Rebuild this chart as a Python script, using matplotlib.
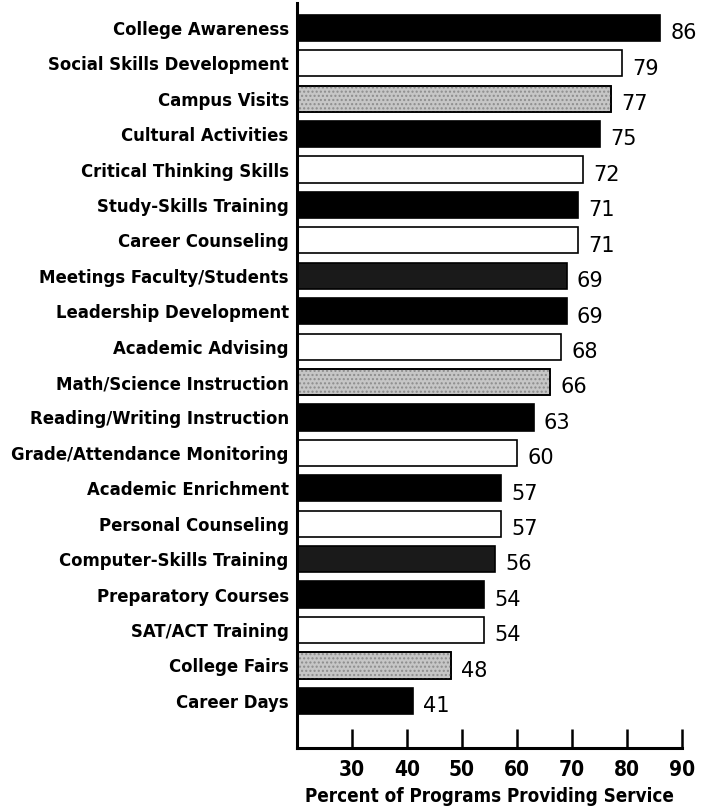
import matplotlib.pyplot as plt
import numpy as np

services = ['College Awareness', 'Social Skills Development', 'Campus Visits',
            'Cultural Activities', 'Critical Thinking Skills', 'Study-Skills Training',
            'Career Counseling', 'Meetings Faculty/Students', 'Leadership Development',
            'Academic Advising', 'Math/Science Instruction', 'Reading/Writing Instruction',
            'Grade/Attendance Monitoring', 'Academic Enrichment', 'Personal Counseling',
            'Computer-Skills Training', 'Preparatory Courses', 'SAT/ACT Training',
            'College Fairs', 'Career Days']
percent = [86, 79, 77, 75, 72, 71, 71, 69, 69, 68, 66, 63, 60, 57, 57, 56, 54, 54, 48, 41]
fills = ['black', 'white', 'gray', 'black', 'white', 'black', 'white', 'dark', 'black',
         'white', 'gray', 'black', 'white', 'black', 'white', 'dark', 'black', 'white',
         'gray', 'black']
xticks = [30, 40, 50, 60, 70, 80, 90]

colour = {'black': '#000000', 'white': '#ffffff', 'gray': '#c6c6c6', 'dark': '#1a1a1a'}

fig = plt.figure(figsize=(7.13, 8.11), dpi=100)
ax = fig.add_axes([297 / 713, 63 / 811, (682 - 297) / 713, (808 - 63) / 811])

y = np.arange(len(services))
cols = [colour[f] for f in fills]
ax.barh(y, percent, height=0.74, color=cols, edgecolor='black', linewidth=1.2)

# stipple on the gray bars
gray = [i for i, f in enumerate(fills) if f == 'gray']
ax.barh(y[gray], [percent[i] for i in gray], height=0.74, color='none',
        edgecolor='#8c8c8c', linewidth=0, hatch='....')
ax.barh(y[gray], [percent[i] for i in gray], height=0.74, color='none',
        edgecolor='black', linewidth=1.2)

for yi, v in zip(y, percent):
    ax.text(v + 1.9, yi + 0.15, str(v), va='center', ha='left', fontsize=15,
            family='DejaVu Sans')

ax.set_xlim(20, 90)
ax.set_ylim(len(services) - 1 + 1.33, -0.7)
ax.set_yticks(y)
ax.set_yticklabels(services, fontsize=13.2, fontweight='bold', family='DejaVu Sans',
                   fontstretch='condensed')
ax.tick_params(axis='y', length=0, pad=6)
ax.set_xticks(xticks)
ax.set_xticklabels([str(t) for t in xticks], fontsize=15, fontweight='bold',
                   family='DejaVu Sans', fontstretch='condensed')
ax.tick_params(axis='x', direction='in', length=14, width=1.8, pad=9)
ax.set_xlabel('Percent of Programs Providing Service', fontsize=13.5, fontweight='bold',
              family='DejaVu Sans', fontstretch='condensed', labelpad=5)

for s in ['top', 'right']:
    ax.spines[s].set_visible(False)
for s in ['left', 'bottom']:
    ax.spines[s].set_linewidth(2.2)

fig.savefig('out.png', dpi=100)
